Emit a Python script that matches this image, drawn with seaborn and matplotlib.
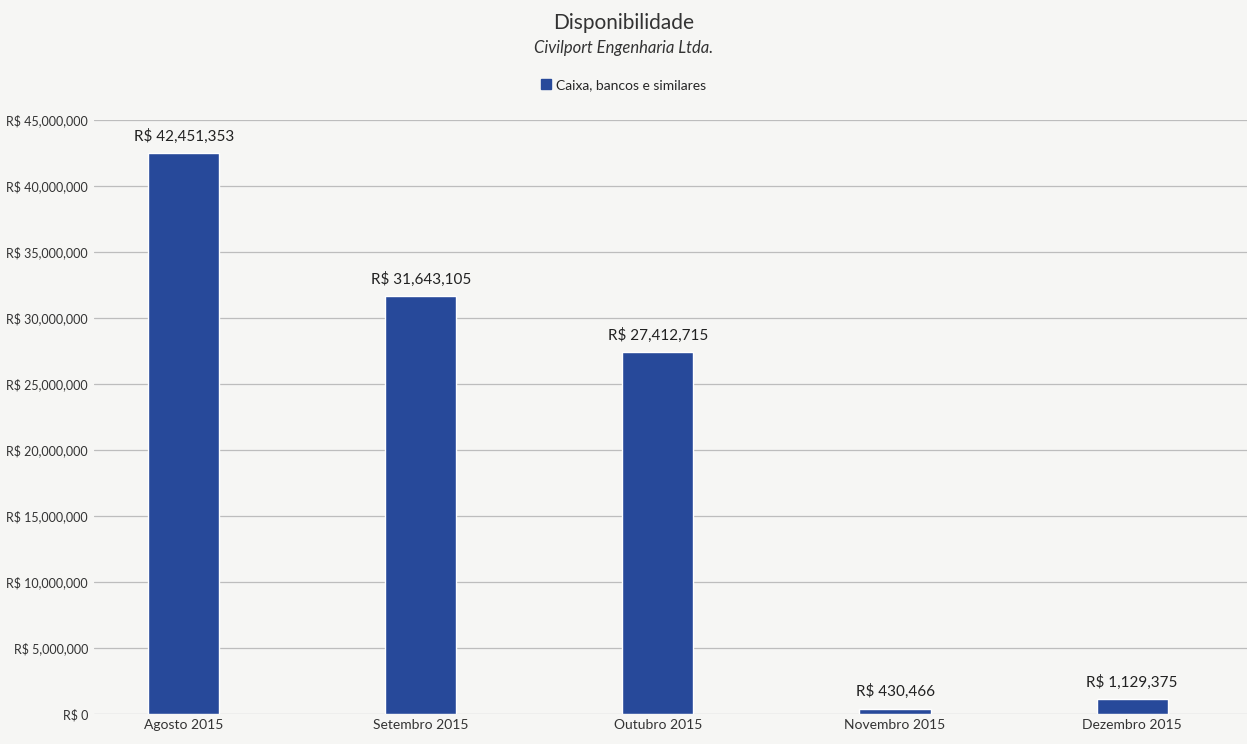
import matplotlib
matplotlib.use("Agg")
import matplotlib.pyplot as plt
import matplotlib.ticker as mticker
from matplotlib.patches import Patch
import pandas as pd
import seaborn as sns

meses = ["Agosto 2015", "Setembro 2015", "Outubro 2015", "Novembro 2015", "Dezembro 2015"]
valores = [42451353, 31643105, 27412715, 430466, 1129375]
serie = "Caixa, bancos e similares"

df = pd.DataFrame({"mes": meses, "valor": valores})

sns.set_style("white")
plt.rcParams["font.family"] = ["Lato", "DejaVu Sans"]

cor = "#27499a"
fig = plt.figure(figsize=(12.47, 7.44), dpi=100, facecolor="#f6f6f4")
ax = fig.add_axes([0.075, 0.04, 0.928, 0.799])
ax.set_facecolor("#f6f6f4")

sns.barplot(data=df, x="mes", y="valor", color=cor, width=0.3, saturation=1, ax=ax, zorder=3)

ax.set_xlim(-0.38, 4.5)
ax.set_ylim(0, 45000000)
ax.yaxis.set_major_locator(mticker.MultipleLocator(5000000))
ax.yaxis.set_major_formatter(mticker.FuncFormatter(lambda v, p: "R$ 0" if v == 0 else f"R$ {v:,.0f}"))
ax.grid(axis="y", color="#bdbdbd", linewidth=0.9, zorder=0)
for s in ax.spines.values():
    s.set_visible(False)
ax.tick_params(axis="both", length=0, labelsize=10, colors="#333333")
ax.tick_params(axis="y", labelsize=9, pad=4)
ax.set_xlabel("")
ax.set_ylabel("")

for i, v in enumerate(valores):
    ax.annotate(f"R$ {v:,.0f}", (i, v), xytext=(0, 7), textcoords="offset points",
                ha="center", va="bottom", fontsize=11, color="#222222")

fig.text(0.5, 0.969, "Disponibilidade", ha="center", va="center", fontsize=15, color="#333333")
fig.text(0.5, 0.936, "Civilport Engenharia Ltda.", ha="center", va="center", fontsize=12,
         style="italic", color="#333333")
fig.legend(handles=[Patch(color=cor, label=serie)], loc="center", bbox_to_anchor=(0.5, 0.886),
           frameon=False, fontsize=10, handlelength=0.7, handleheight=0.7, handletextpad=0.4)

fig.savefig("out.png", dpi=100, facecolor=fig.get_facecolor())
